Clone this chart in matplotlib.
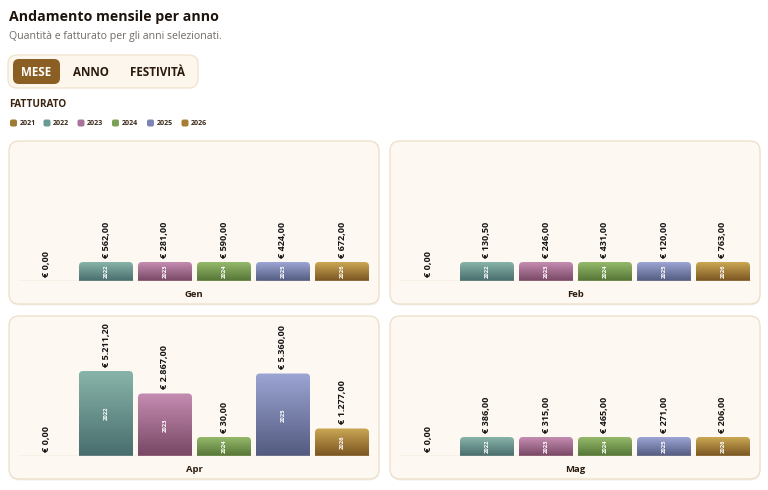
import matplotlib
matplotlib.use('Agg')
import matplotlib.pyplot as plt
import numpy as np
from matplotlib.patches import FancyBboxPatch
from matplotlib.colors import LinearSegmentedColormap

W, H = 768, 490

anni = ['2021', '2022', '2023', '2024', '2025', '2026']
mesi = ['Gen', 'Feb', 'Apr', 'Mag']

fatturato_gen = [0.00, 562.00, 281.00, 590.00, 424.00, 672.00]
fatturato_feb = [0.00, 130.50, 246.00, 431.00, 120.00, 763.00]
fatturato_apr = [0.00, 5211.20, 2867.00, 30.00, 5360.00, 1277.00]
fatturato_mag = [0.00, 386.00, 315.00, 465.00, 271.00, 206.00]

# quantita' (altezza delle barre), stimate dal grafico
quantita_gen = [0, 12, 6, 13, 9, 15]
quantita_feb = [0, 3, 5, 9, 3, 16]
quantita_apr = [0, 170, 125, 2, 165, 55]
quantita_mag = [0, 8, 7, 10, 6, 5]

colori_top = ['#b08a42', '#87b4a8', '#c58cb1', '#95b96b', '#9ca5d3', '#cba754']
colori_bot = ['#7d5a22', '#496d6e', '#784865', '#557636', '#535b80', '#7a5522']
colori_legenda = ['#9e7a34', '#6a9a94', '#a8739a', '#7aa055', '#7c84b4', '#a67d34']

Q_MAX = 262
Q_MIN = 38

plt.rcParams['font.family'] = ['Open Sans', 'DejaVu Sans']

fig = plt.figure(figsize=(W / 100, H / 100), dpi=100)
fig.patch.set_facecolor('white')

bg = fig.add_axes([0, 0, 1, 1], zorder=0)
bg.set_xlim(0, W)
bg.set_ylim(H, 0)
bg.axis('off')


def box(x, y, w, h, r, fc, ec='none', lw=0.8, z=1):
    p = FancyBboxPatch((x, y), w, h, boxstyle=f"round,pad=0,rounding_size={r}",
                       fc=fc, ec=ec, lw=lw, zorder=z)
    bg.add_patch(p)
    return p


def euro(v):
    s = f"{v:,.2f}".replace(',', 'X').replace('.', ',').replace('X', '.')
    return "€ " + s


# intestazione
bg.text(9, 17, "Andamento mensile per anno", fontsize=10.2, fontweight='bold',
        color='#1c140c', va='center', ha='left')
bg.text(9, 36, "Quantità e fatturato per gli anni selezionati.", fontsize=7.6,
        color='#6f6a66', va='center', ha='left')

box(8, 55, 190, 33, 9, '#fdf6ec', '#efe2cc', 0.9)
box(13, 59, 47, 25, 6, '#8b5e23')
bg.text(36.5, 72, "MESE", fontsize=8.4, fontweight='bold', color='white', ha='center', va='center')
bg.text(90.5, 72, "ANNO", fontsize=8.4, fontweight='bold', color='#2a1a0c', ha='center', va='center')
bg.text(157.5, 72, "FESTIVITÀ", fontsize=8.4, fontweight='bold', color='#2a1a0c', ha='center', va='center')

bg.text(9, 104, "FATTURATO", fontsize=7.2, fontweight='bold', color='#3a2410', ha='left', va='center')

leg_x = [10, 43.5, 77.5, 112, 147, 181.5]
for i, a in enumerate(anni):
    box(leg_x[i], 119.5, 7, 7, 2, colori_legenda[i])
    bg.text(leg_x[i] + 9.5, 123.5, a, fontsize=5.1, fontweight='bold', color='#3a2a1a',
            ha='left', va='center')

pannelli = [
    (9, 141, mesi[0], fatturato_gen, quantita_gen),
    (390, 141, mesi[1], fatturato_feb, quantita_feb),
    (9, 316, mesi[2], fatturato_apr, quantita_apr),
    (390, 316, mesi[3], fatturato_mag, quantita_mag),
]

x_pos = np.arange(len(anni))

for px, py, mese, fatt, quant in pannelli:
    box(px + 0.5, py + 1.5, 370, 163, 10, '#f4f1ec', z=0.5)
    box(px, py, 370, 163, 10, '#fdf8f1', '#ecdfc8', 0.9)

    base = py + 140
    ax = fig.add_axes([(px + 8.5) / W, 1 - base / H, 354 / W, 131 / H], zorder=1)
    ax.patch.set_visible(False)
    ax.axis('off')

    altezze = [max(q, Q_MIN) if f > 0 else 0 for q, f in zip(quant, fatt)]
    bars = ax.bar(x_pos, altezze, width=0.915, color='none', edgecolor='none')

    rx = 4 / 59
    ry = 4 * Q_MAX / 131
    for i, rect in enumerate(bars):
        h = rect.get_height()
        if h <= 0:
            continue
        x0, w = rect.get_x(), rect.get_width()
        clip = FancyBboxPatch((x0, -ry * 2), w, h + ry * 2,
                              boxstyle=f"round,pad=0,rounding_size={rx}",
                              mutation_aspect=ry / rx, fc='none', ec='none')
        ax.add_patch(clip)
        cmap = LinearSegmentedColormap.from_list('g', [colori_bot[i], colori_top[i]])
        img = ax.imshow(np.linspace(0, 1, 64).reshape(-1, 1), cmap=cmap, origin='lower',
                        extent=[x0, x0 + w, 0, h], aspect='auto', zorder=2)
        img.set_clip_path(clip)
        ax.text(rect.get_x() + w / 2, h / 2, anni[i], rotation=90, fontsize=4.2,
                fontweight='bold', color='white', ha='center', va='center', zorder=3)

    for i, v in enumerate(fatt):
        ax.annotate(euro(v), (x_pos[i], altezze[i]), xytext=(0, 3), textcoords='offset points',
                    rotation=90, ha='center', va='bottom', fontsize=6.6, fontweight='bold',
                    color='#161616', zorder=4)

    ax.axhline(0, color='#e6d6ba', lw=1.0, zorder=5)
    ax.set_xlim(-0.5, len(anni) - 0.5)
    ax.set_ylim(0, Q_MAX)

    bg.text(px + 185, base + 13, mese, fontsize=6.8, fontweight='bold', color='#2b1d10',
            ha='center', va='center')

fig.savefig('out.png', dpi=100, facecolor=fig.get_facecolor())
